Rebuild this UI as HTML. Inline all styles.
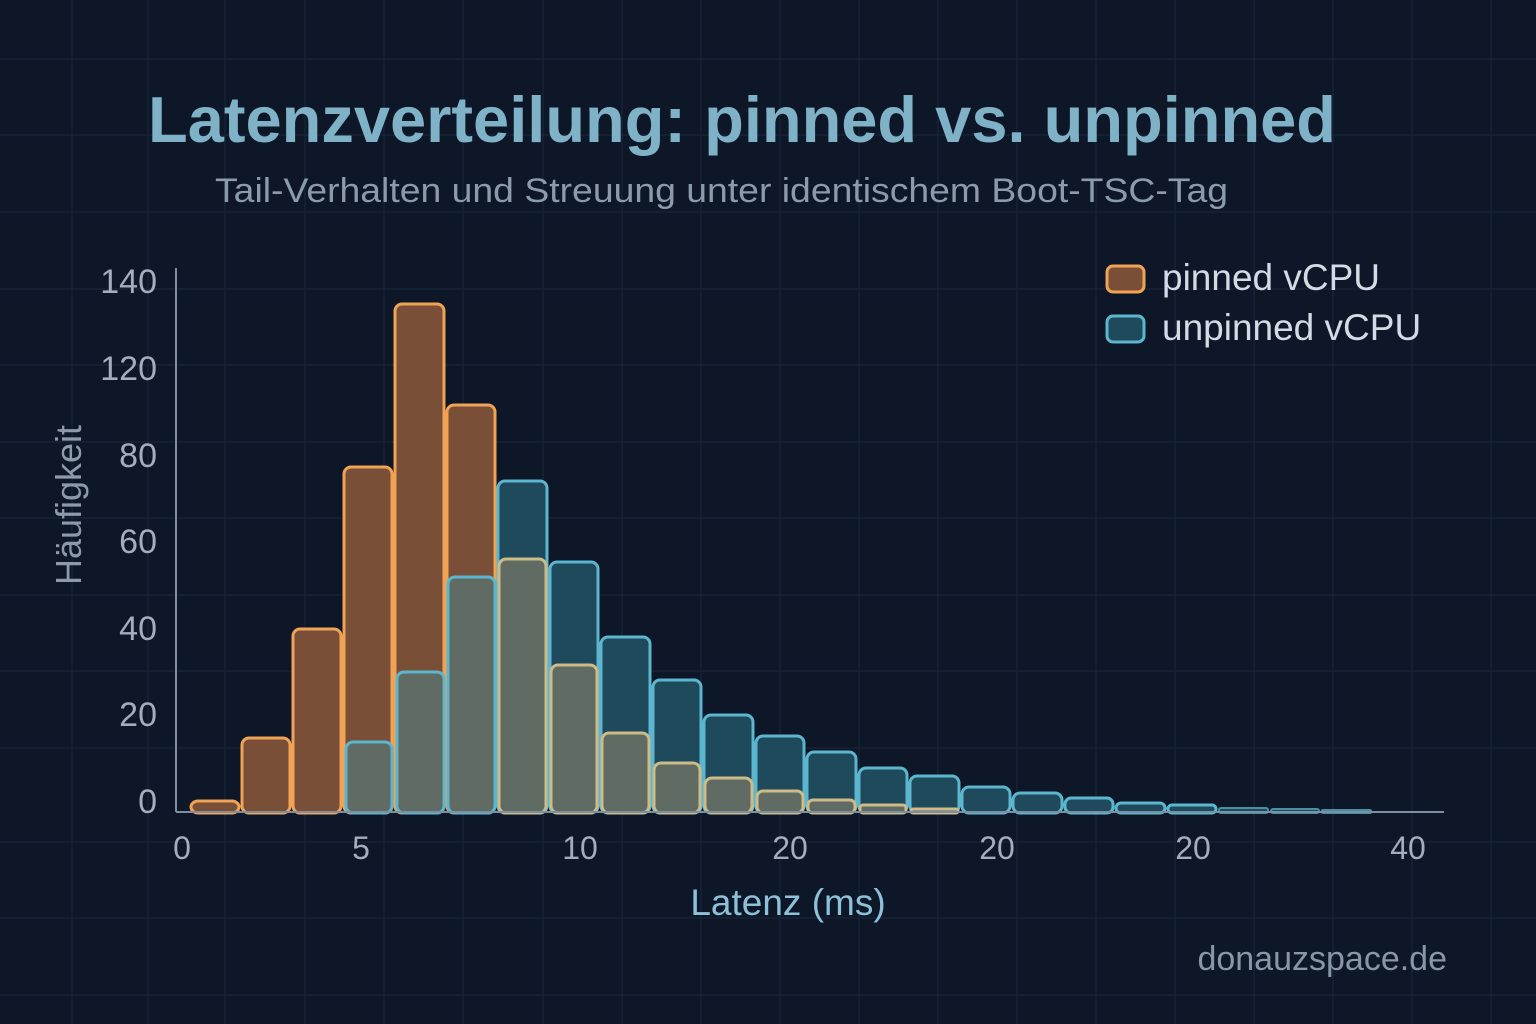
<!DOCTYPE html>
<html><head><meta charset="utf-8"><style>
html,body{margin:0;padding:0;background:#0d1727;}
svg{display:block;}
text{font-family:"Liberation Sans","DejaVu Sans",sans-serif;}
</style></head><body>
<svg width="1536" height="1024" viewBox="0 0 1536 1024" xmlns="http://www.w3.org/2000/svg">
<rect width="1536" height="1024" fill="#0d1727"/>
<g stroke="#18253a" stroke-width="1.2">
<line x1="0" y1="59" x2="1536" y2="59"/><line x1="0" y1="135" x2="1536" y2="135"/><line x1="0" y1="212" x2="1536" y2="212"/>
<line x1="0" y1="289" x2="1536" y2="289"/><line x1="0" y1="365" x2="1536" y2="365"/><line x1="0" y1="442" x2="1536" y2="442"/>
<line x1="0" y1="518" x2="1536" y2="518"/><line x1="0" y1="595" x2="1536" y2="595"/><line x1="0" y1="671" x2="1536" y2="671"/>
<line x1="0" y1="748" x2="1536" y2="748"/><line x1="0" y1="842" x2="1536" y2="842"/><line x1="0" y1="918" x2="1536" y2="918"/><line x1="0" y1="995" x2="1536" y2="995"/>
<line x1="72" y1="0" x2="72" y2="1024"/><line x1="148" y1="0" x2="148" y2="1024"/><line x1="225" y1="0" x2="225" y2="1024"/>
<line x1="305" y1="0" x2="305" y2="1024"/><line x1="384" y1="0" x2="384" y2="1024"/><line x1="463" y1="0" x2="463" y2="1024"/>
<line x1="543" y1="0" x2="543" y2="1024"/><line x1="622" y1="0" x2="622" y2="1024"/><line x1="701" y1="0" x2="701" y2="1024"/>
<line x1="780" y1="0" x2="780" y2="1024"/><line x1="859" y1="0" x2="859" y2="1024"/><line x1="938" y1="0" x2="938" y2="1024"/>
<line x1="1017" y1="0" x2="1017" y2="1024"/><line x1="1096" y1="0" x2="1096" y2="1024"/><line x1="1175" y1="0" x2="1175" y2="1024"/>
<line x1="1254" y1="0" x2="1254" y2="1024"/><line x1="1333" y1="0" x2="1333" y2="1024"/><line x1="1412" y1="0" x2="1412" y2="1024"/><line x1="1491" y1="0" x2="1491" y2="1024"/>
</g>
<text x="148" y="142" font-size="65" font-weight="bold" fill="#7fb2c7" textLength="1188" lengthAdjust="spacingAndGlyphs">Latenzverteilung: pinned vs. unpinned</text>
<text x="215" y="202" font-size="34" fill="#8c9bab" textLength="1013" lengthAdjust="spacingAndGlyphs">Tail-Verhalten und Streuung unter identischem Boot-TSC-Tag</text>

<g stroke="#f0a355" stroke-width="3" fill="#7a4f38">
<rect x="191" y="801" width="48" height="12" rx="7"/>
<rect x="242" y="738" width="48" height="75" rx="7"/>
<rect x="293" y="629" width="48" height="184" rx="7"/>
<rect x="344" y="467" width="48" height="346" rx="7"/>
<rect x="395" y="304" width="49" height="509" rx="7"/>
<rect x="447" y="405" width="48" height="408" rx="7"/>
</g>
<g stroke="#5cb6cf" stroke-width="3" fill="#5f6b63">
<rect x="346" y="742" width="46" height="71" rx="7"/>
<rect x="397" y="672" width="47" height="141" rx="7"/>
<rect x="448" y="577" width="47" height="236" rx="7"/>
</g>
<g stroke="#5cb6cf" stroke-width="3" fill="#1e4a5c">
<rect x="498" y="481" width="49" height="332" rx="7"/>
<rect x="550" y="562" width="48" height="251" rx="7"/>
<rect x="601" y="637" width="49" height="176" rx="7"/>
<rect x="653" y="680" width="48" height="133" rx="7"/>
<rect x="704" y="715" width="49" height="98" rx="7"/>
<rect x="756" y="736" width="48" height="77" rx="7"/>
<rect x="807" y="752" width="49" height="61" rx="7"/>
<rect x="859" y="768" width="48" height="45" rx="7"/>
<rect x="910" y="776" width="49" height="37" rx="7"/>
<rect x="962" y="787" width="48" height="26" rx="7"/>
<rect x="1013" y="793" width="49" height="20" rx="7"/>
<rect x="1065" y="798" width="48" height="15" rx="6"/>
<rect x="1116" y="803" width="49" height="10" rx="5"/>
<rect x="1168" y="805" width="48" height="8" rx="4"/>
</g>
<g stroke="#4a8ea3" stroke-width="2" fill="#1e4a5c">
<rect x="1219" y="808" width="49" height="5" rx="2"/>
<rect x="1271" y="809" width="48" height="4" rx="2"/>
<rect x="1322" y="810" width="49" height="3" rx="1"/>
</g>
<g stroke="#cdbb88" stroke-width="3" fill="#5f6b63">
<rect x="499" y="559" width="47" height="254" rx="7"/>
<rect x="551" y="665" width="46" height="148" rx="7"/>
<rect x="602" y="733" width="47" height="80" rx="7"/>
<rect x="654" y="763" width="46" height="50" rx="7"/>
<rect x="705" y="778" width="47" height="35" rx="7"/>
<rect x="757" y="791" width="46" height="22" rx="6"/>
<rect x="808" y="800" width="47" height="13" rx="5"/>
<rect x="860" y="805" width="46" height="8" rx="3"/>
<rect x="911" y="809" width="47" height="4" rx="2"/>
</g>

<line x1="176" y1="268" x2="176" y2="812" stroke="#7f8fa3" stroke-width="2"/>
<line x1="176" y1="812" x2="1444" y2="812" stroke="#7f8fa3" stroke-width="2"/>

<g font-size="34" fill="#a3adbb" text-anchor="end">
<text x="157" y="293">140</text><text x="157" y="380">120</text><text x="157" y="467">80</text>
<text x="157" y="553">60</text><text x="157" y="640">40</text><text x="157" y="726">20</text><text x="157" y="813">0</text>
</g>
<g font-size="32" fill="#a3adbb" text-anchor="middle">
<text x="182" y="859">0</text><text x="361" y="859">5</text><text x="580" y="859">10</text>
<text x="790" y="859">20</text><text x="997" y="859">20</text><text x="1193" y="859">20</text><text x="1408" y="859">40</text>
</g>
<text x="788" y="915" text-anchor="middle" font-size="37" fill="#8cc1d8">Latenz (ms)</text>
<text transform="translate(81,505) rotate(-90)" text-anchor="middle" font-size="36" fill="#8d9aaa">Häufigkeit</text>

<rect x="1107" y="266" width="37" height="26" rx="6" fill="#7a4f38" stroke="#f0a355" stroke-width="3"/>
<rect x="1107" y="316" width="37" height="26" rx="6" fill="#1e4a5c" stroke="#5cb6cf" stroke-width="3"/>
<text x="1162" y="290" font-size="37" fill="#d3dbe4">pinned vCPU</text>
<text x="1162" y="340" font-size="37" fill="#d3dbe4">unpinned vCPU</text>

<text x="1447" y="970" text-anchor="end" font-size="34" fill="#8896a5">donauzspace.de</text>
</svg>
</body></html>
